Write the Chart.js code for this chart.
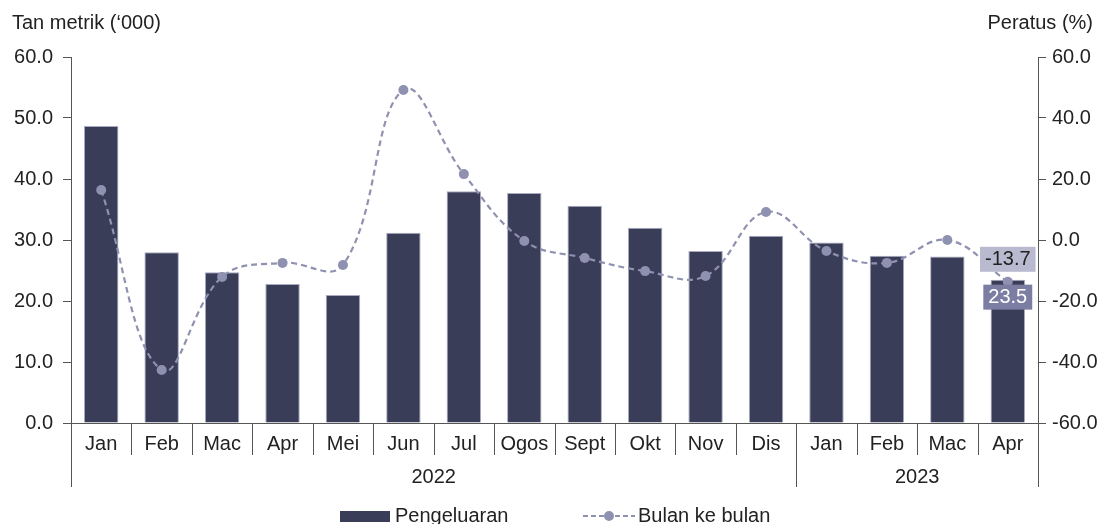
<!DOCTYPE html>
<html lang="en">
<head>
<meta charset="UTF-8">
<script src="https://cdn.jsdelivr.net/npm/chart.js@4/dist/chart.umd.min.js"></script>
<title>Pengeluaran</title>
<style>
  html, body { margin: 0; padding: 0; background: #fff; }
  #wrap { width: 1106px; height: 524px; }
</style>
</head>
<body>
<div id="wrap"><canvas id="myChart"></canvas></div>
<script>
const months = ['Jan','Feb','Mac','Apr','Mei','Jun','Jul','Ogos','Sept','Okt','Nov','Dis','Jan','Feb','Mac','Apr'];
const years = [{ label: '2022', from: 0, to: 11 }, { label: '2023', from: 12, to: 15 }];
const pengeluaran = [48.7, 28.0, 24.7, 22.8, 21.0, 31.2, 38.0, 37.7, 35.6, 32.0, 28.2, 30.7, 29.6, 27.4, 27.3, 23.5];
const bulanKeBulan = [16.4, -42.6, -12.1, -7.5, -8.2, 49.2, 21.6, -0.3, -5.9, -10.2, -11.8, 9.2, -3.6, -7.5, 0.0, -13.7];
const leftTicks = [0, 10, 20, 30, 40, 50, 60];
const rightTicks = [-60, -40, -20, 0, 20, 40, 60];

const FONT = '"Liberation Sans", Arial, sans-serif';
const barColor = '#3a3d58';
const lineColor = '#8f91b0';
const axisColor = '#555555';

const extras = {
  id: 'extras',
  afterDraw(chart) {
    const c = chart.ctx;
    const x = chart.scales.x;
    const area = chart.chartArea;
    c.save();
    c.font = '20px ' + FONT;
    c.fillStyle = '#222';
    c.textBaseline = 'middle';
    c.textAlign = 'left';
    c.fillText('Tan metrik (\u2018000)', 12, 23);
    c.textAlign = 'right';
    c.fillText('Peratus (%)', 1093, 23);

    // month separators and year groups
    c.strokeStyle = axisColor;
    c.lineWidth = 1;
    const step = x.getPixelForValue(1) - x.getPixelForValue(0);
    for (let i = 0; i <= months.length; i++) {
      const px = Math.round(x.getPixelForValue(i) - step / 2) + 0.5;
      let bottom = area.bottom + 32;
      if (years.some(y => y.from === i) || i === months.length) bottom = area.bottom + 64;
      c.beginPath();
      c.moveTo(px, area.bottom);
      c.lineTo(px, bottom);
      c.stroke();
    }
    c.textAlign = 'center';
    years.forEach(y => {
      const mid = (x.getPixelForValue(y.from) + x.getPixelForValue(y.to)) / 2;
      c.fillText(y.label, mid, area.bottom + 54);
    });

    // value labels for the last month
    const last = months.length - 1;
    const pt = chart.getDatasetMeta(1).data[last];
    const bar = chart.getDatasetMeta(0).data[last];
    const lbl1 = bulanKeBulan[last].toFixed(1);
    const w1 = c.measureText(lbl1).width + 10;
    c.fillStyle = '#b9bad0';
    c.fillRect(pt.x - w1 / 2, pt.y - 35, w1, 25);
    c.fillStyle = '#222';
    c.fillText(lbl1, pt.x, pt.y - 22);
    const lbl2 = pengeluaran[last].toFixed(1);
    const w2 = c.measureText(lbl2).width + 10;
    c.fillStyle = '#7b7da3';
    c.fillRect(bar.x - w2 / 2, bar.y + 5, w2, 25);
    c.fillStyle = '#fff';
    c.fillText(lbl2, bar.x, bar.y + 18);

    // legend
    const ly = 516;
    c.textAlign = 'left';
    c.fillStyle = barColor;
    c.fillRect(340, ly - 5, 50, 11);
    c.fillStyle = '#222';
    c.fillText(chart.data.datasets[0].label, 395, ly);
    c.strokeStyle = lineColor;
    c.lineWidth = 2;
    c.setLineDash([5, 3]);
    c.beginPath();
    c.moveTo(583, ly);
    c.lineTo(635, ly);
    c.stroke();
    c.setLineDash([]);
    c.fillStyle = lineColor;
    c.beginPath();
    c.arc(609, ly, 5, 0, Math.PI * 2);
    c.fill();
    c.fillStyle = '#222';
    c.fillText(chart.data.datasets[1].label, 638, ly);
    c.restore();
  }
};

const ctx = document.getElementById('myChart').getContext('2d');
const myChart = new Chart(ctx, {
  type: 'bar',
  data: {
    labels: months,
    datasets: [{
      type: 'bar',
      label: 'Pengeluaran',
      data: pengeluaran,
      backgroundColor: barColor,
      borderColor: '#a9aac0',
      borderWidth: 1,
      categoryPercentage: 1,
      barPercentage: 0.57,
      yAxisID: 'y',
      order: 1
    }, {
      type: 'line',
      label: 'Bulan ke bulan',
      data: bulanKeBulan,
      borderColor: lineColor,
      borderWidth: 2.2,
      borderDash: [6, 4],
      tension: 0.4,
      pointRadius: 5,
      pointBackgroundColor: lineColor,
      pointBorderWidth: 0,
      yAxisID: 'y1',
      order: 0
    }]
  },
  options: {
    responsive: true,
    maintainAspectRatio: false,
    animation: false,
    layout: { padding: { top: 57, left: 0, right: 0, bottom: 0 } },
    plugins: {
      legend: { display: false },
      tooltip: { enabled: false }
    },
    scales: {
      x: {
        offset: true,
        grid: { display: false, drawTicks: false },
        border: { color: axisColor },
        ticks: { color: '#222', font: { family: FONT, size: 20 }, padding: 9, maxRotation: 0, autoSkip: false },
        afterFit: s => { s.height = 101; }
      },
      y: {
        position: 'left',
        min: 0, max: 60,
        afterBuildTicks: s => { s.ticks = leftTicks.map(v => ({ value: v })); },
        grid: { drawOnChartArea: false, tickLength: 8, color: axisColor },
        border: { color: axisColor },
        ticks: { color: '#222', font: { family: FONT, size: 20 }, padding: 10, callback: v => v.toFixed(1) },
        afterFit: s => { s.width = 71; }
      },
      y1: {
        position: 'right',
        min: -60, max: 60,
        afterBuildTicks: s => { s.ticks = rightTicks.map(v => ({ value: v })); },
        grid: { drawOnChartArea: false, tickLength: 8, color: axisColor },
        border: { color: axisColor },
        ticks: { color: '#222', font: { family: FONT, size: 20 }, padding: 6, callback: v => v.toFixed(1) },
        afterFit: s => { s.width = 68; }
      }
    }
  },
  plugins: [extras]
});
</script>
</body>
</html>
